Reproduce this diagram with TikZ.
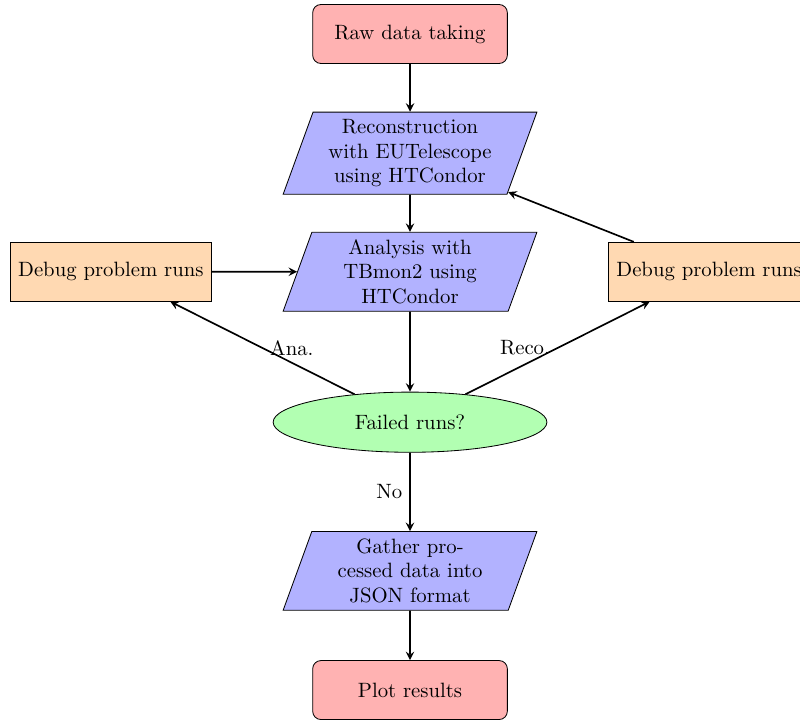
\documentclass[tikz,border=0pt]{standalone}
\usepackage{amsmath}
\usetikzlibrary{shapes.geometric,arrows}

\tikzset{
	startstop/.style={rectangle, rounded corners, minimum width=3.3cm, minimum height=1cm, text centered, draw=black, fill=red!30},
	io/.style={trapezium, trapezium left angle=70, trapezium right angle=110, trapezium stretches body, minimum width=4.3cm, minimum height=1cm, align=center, draw=black, fill=blue!30},
	process/.style={rectangle, minimum width=3.4cm, minimum height=1cm, text centered, draw=black, fill=orange!30},
	decision/.style={ellipse, minimum width=4.64cm, minimum height=1.02cm, text centered, draw=black, fill=green!30},
	arrow/.style={thick,->,>=stealth}
}

\begin{document}
\begin{tikzpicture}
	\useasboundingbox (-6.95,0.576) rectangle (6.61,-11.63);
	\node (raw) [startstop] at (0,0) {Raw data taking};
	\node (reco) [io] at (0,-2.02) {Reconstruction\\with EUTelescope\\using HTCondor};
	\node (ana) [io] at (0,-4.03) {Analysis with\\TBmon2 using\\HTCondor};
	\node (debugana) [process] at (-5.07,-4.03) {Debug problem runs};
	\node (debugreco) [process] at (5.07,-4.03) {Debug problem runs};
	\node (failed) [decision] at (0,-6.58) {Failed runs?};
	\node (gather) [io] at (0,-9.10) {Gather pro-\\cessed data into\\JSON format};
	\node (plot) [startstop] at (0,-11.12) {Plot results};
	
	\draw [arrow] (raw) -- (reco);
	\draw [arrow] (reco) -- (ana);
	\draw [arrow] (ana) -- (failed);
	\draw [arrow] (failed) -- node[left] {No} (gather);
	\draw [arrow] (gather) -- (plot);
	\draw [arrow] (failed) -- node[right] {Ana.} (debugana);
	\draw [arrow] (failed) -- node[left] {Reco.} (debugreco);
	\draw [arrow] (debugana) -- (ana);
	\draw [arrow] (debugreco) -- (reco);
\end{tikzpicture}
\end{document}
